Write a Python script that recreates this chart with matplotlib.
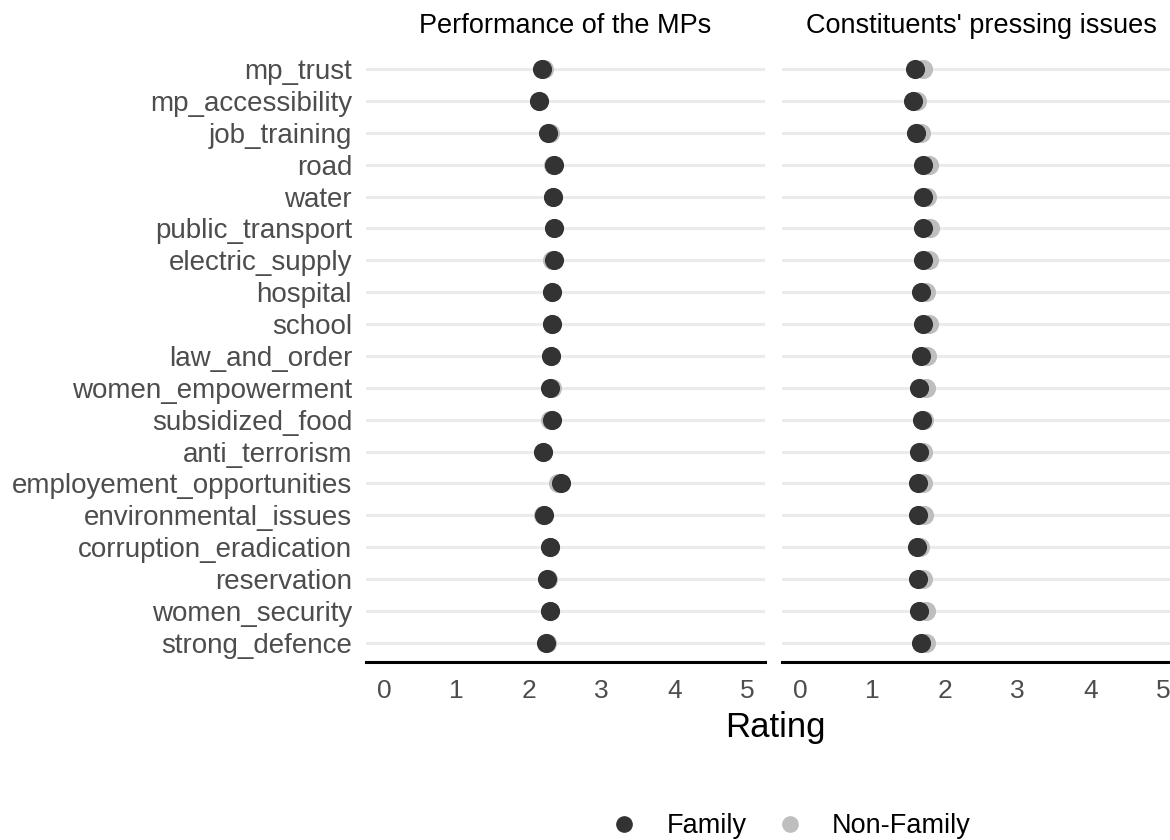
import matplotlib
matplotlib.use('Agg')
import matplotlib.pyplot as plt
from matplotlib.lines import Line2D

plt.rcParams['font.family'] = ['Liberation Sans', 'DejaVu Sans']

items = ['mp_trust', 'mp_accessibility', 'job_training', 'road', 'water',
         'public_transport', 'electric_supply', 'hospital', 'school',
         'law_and_order', 'women_empowerment', 'subsidized_food',
         'anti_terrorism', 'employement_opportunities', 'environmental_issues',
         'corruption_eradication', 'reservation', 'women_security',
         'strong_defence']

# Performance of the MPs
perf_family = [2.17, 2.13, 2.26, 2.34, 2.33, 2.34, 2.34, 2.32, 2.31, 2.30,
               2.28, 2.31, 2.19, 2.44, 2.21, 2.28, 2.24, 2.28, 2.23]
perf_nonfamily = [2.20, 2.13, 2.28, 2.33, 2.33, 2.34, 2.32, 2.31, 2.31, 2.30,
                  2.31, 2.29, 2.19, 2.40, 2.19, 2.28, 2.26, 2.29, 2.25]

# Constituents' pressing issues
issue_family = [1.59, 1.55, 1.60, 1.70, 1.69, 1.69, 1.69, 1.67, 1.69, 1.66,
                1.64, 1.68, 1.64, 1.62, 1.63, 1.61, 1.63, 1.64, 1.67]
issue_nonfamily = [1.70, 1.61, 1.67, 1.77, 1.75, 1.79, 1.77, 1.73, 1.77, 1.75,
                   1.73, 1.71, 1.69, 1.70, 1.71, 1.65, 1.70, 1.73, 1.73]

panels = ["Performance of the MPs", "Constituents' pressing issues"]
xticks = [0, 1, 2, 3, 4, 5]

c_fam = '#333333'
c_non = '#BEBEBE'
grid_c = '#EBEBEB'
tick_c = '#4D4D4D'

fig = plt.figure(figsize=(11.7, 8.4), dpi=100)
ax1 = fig.add_axes([366 / 1170, 1 - 662 / 840, 399 / 1170, 612 / 840])
ax2 = fig.add_axes([782 / 1170, 1 - 662 / 840, 399 / 1170, 612 / 840])

ypos = list(range(len(items)))

for ax, title, fam, non in [(ax1, panels[0], perf_family, perf_nonfamily),
                            (ax2, panels[1], issue_family, issue_nonfamily)]:
    for y in ypos:
        ax.axhline(y, color=grid_c, lw=2.2, zorder=0)
    ax.scatter(non, ypos, s=190, color=c_non, zorder=2, linewidths=0)
    ax.scatter(fam, ypos, s=190, color=c_fam, zorder=3, linewidths=0)
    ax.set_xlim(-0.25, 5.25)
    ax.set_ylim(len(items) - 0.4, -0.6)
    ax.set_xticks(xticks)
    ax.set_xticklabels([str(t) for t in xticks], fontsize=19, color=tick_c)
    ax.tick_params(axis='x', length=0, pad=12)
    ax.tick_params(axis='y', length=0, pad=10)
    for side in ['top', 'right', 'left']:
        ax.spines[side].set_visible(False)
    ax.spines['bottom'].set_linewidth(2.2)
    ax.spines['bottom'].set_color('black')
    ax.set_title(title, fontsize=19.5, pad=12)

ax1.set_yticks(ypos)
ax1.set_yticklabels(items, fontsize=20, color=tick_c)
ax2.set_yticks([])

fig.text(775 / 1170, 1 - 728 / 840, 'Rating', fontsize=25, ha='center', va='center')

handles = [Line2D([], [], marker='o', ls='', color=c_fam, markersize=11, label='Family'),
           Line2D([], [], marker='o', ls='', color=c_non, markersize=11, label='Non-Family')]
fig.legend(handles=handles, loc='center', bbox_to_anchor=(784 / 1170, 1 - 826 / 840),
           ncol=2, frameon=False, fontsize=19.5, handletextpad=0.55, columnspacing=0.6)

fig.savefig('out.png', dpi=100)
